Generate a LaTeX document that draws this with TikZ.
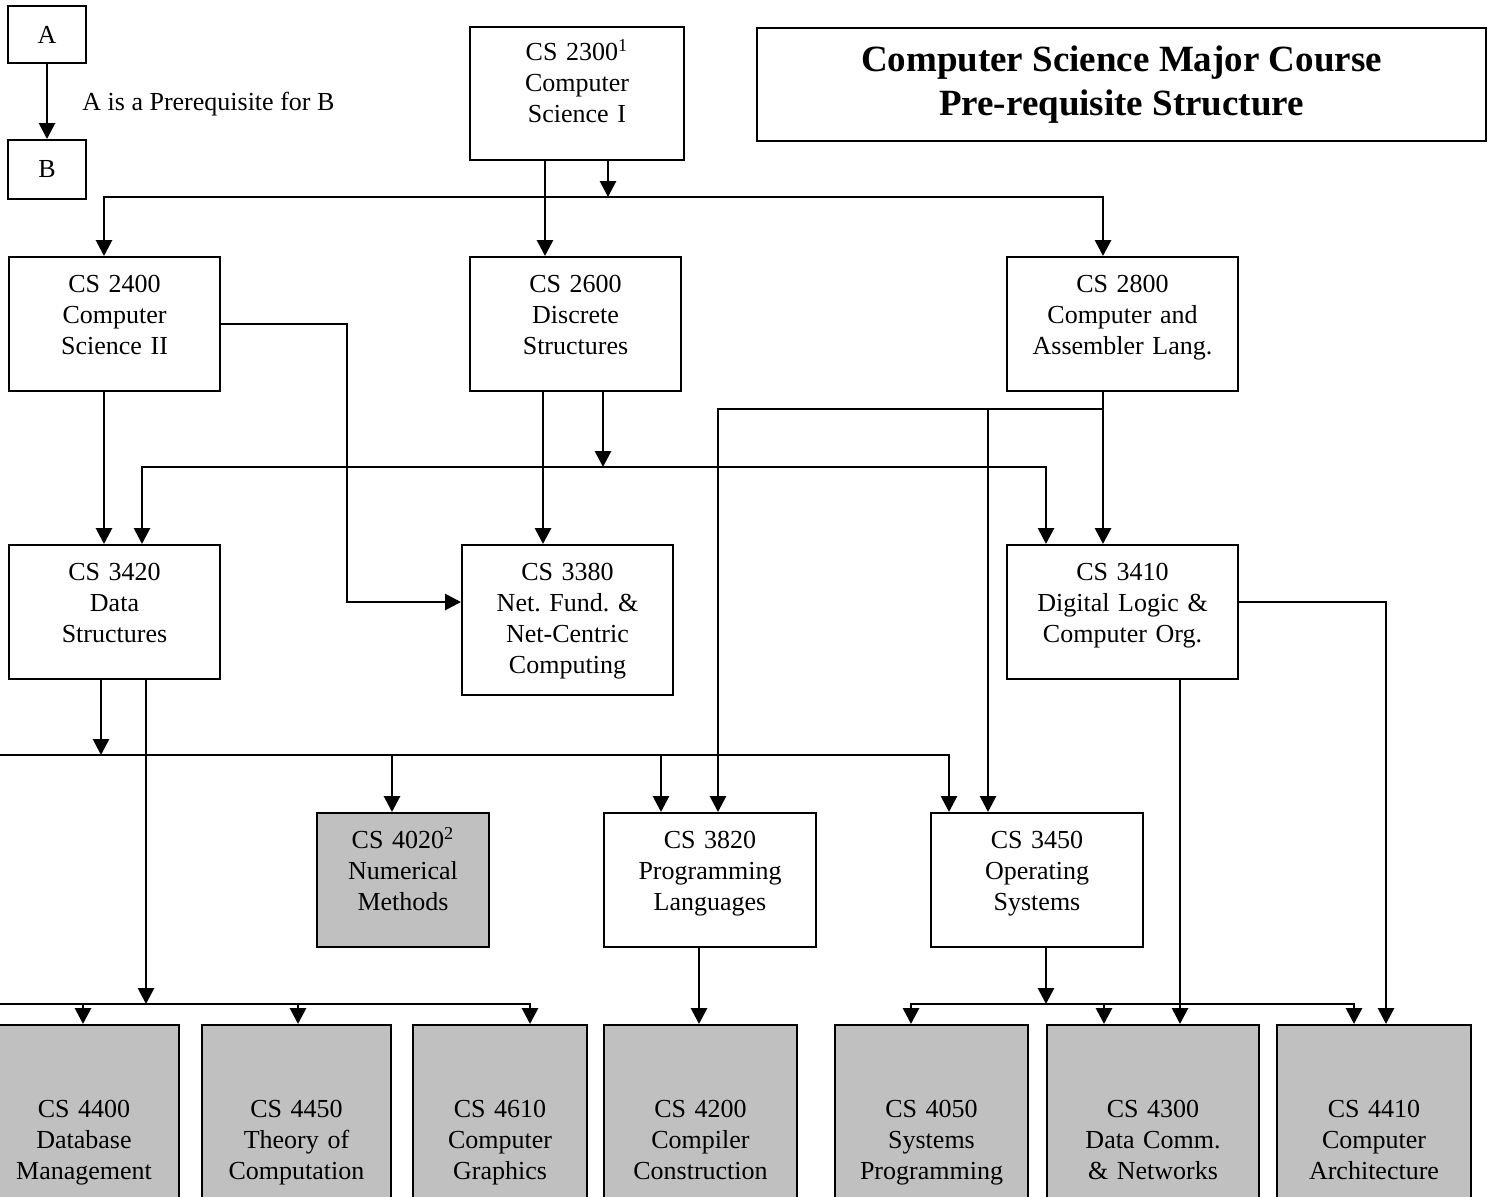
\documentclass[tikz,border=0pt]{standalone}
\usepackage{fontspec}
\setmainfont{Liberation Serif}
\usetikzlibrary{calc,arrows.meta}
\definecolor{elective}{HTML}{C0C0C0}
\newcommand{\boxfont}{\fontsize{13}{15.5}\selectfont\frenchspacing}
\tikzset{
  course/.style={draw,line width=1pt,anchor=north west,text width=#1,align=center,
    inner xsep=0pt,inner ysep=0pt,text height=17.75pt,text depth=49.25pt,font=\boxfont},
  senior/.style={fill=elective,text height=46.25pt,text depth=70pt},
  legbox/.style={draw,line width=1pt,minimum width=39pt,minimum height=28.5pt,font=\boxfont},
  conn/.style={line width=1.4pt,-{Triangle[width=8pt,length=8pt]}}
}
\begin{document}
\begin{tikzpicture}[x=0.5pt,y=-0.5pt]
\useasboundingbox (0,0) rectangle (1488,1196);
\clip (0,0) rectangle (1488,1196);
%legend and title
\node[legbox] (legA) at (47,34.5) {A};
\node[legbox,minimum height=29.5pt] (legB) at (47,169.5) {B};
\node[font=\boxfont,anchor=west,inner sep=0pt] (legtext) at (82,104) {A is a Prerequisite for B};
\node[draw,line width=1pt,minimum width=364.5pt,minimum height=56.5pt,align=center,
  font=\fontsize{18.5}{22}\selectfont\bfseries] (title) at (1121.5,84.5) {Computer Science Major Course\\Pre-requisite Structure};
\draw[conn] (legA) -- (legB);
%core courses
\node[course=107pt,text height=16.5pt,text depth=50pt] (cs2300) at (469,26) {CS 2300\textsuperscript{1}\\Computer\\Science I};
\node[course=105.5pt] (cs2400) at (8,256) {CS 2400\\Computer\\Science II};
\node[course=105.5pt] (cs2600) at (469,256) {CS 2600\\Discrete\\Structures};
\node[course=115.5pt] (cs2800) at (1006,256) {CS 2800\\Computer and\\Assembler Lang.};
\node[course=105.5pt] (cs3420) at (8,544) {CS 3420\\Data\\Structures};
\node[course=105.5pt,text depth=57.25pt] (cs3380) at (461,544) {CS 3380\\Net. Fund. \&\\Net-Centric\\Computing};
\node[course=115.5pt] (cs3410) at (1006,544) {CS 3410\\Digital Logic \&\\Computer Org.};
\node[course=86pt,fill=elective] (cs4020) at (316,812) {CS 4020\textsuperscript{2}\\Numerical\\Methods};
\node[course=106pt] (cs3820) at (603,812) {CS 3820\\Programming\\Languages};
\node[course=106pt] (cs3450) at (930,812) {CS 3450\\Operating\\Systems};
%upper level courses
\node[course=95pt,senior] (cs4400) at (-12,1024) {CS 4400\\Database\\Management};
\node[course=94.5pt,senior] (cs4450) at (201,1024) {CS 4450\\Theory of\\Computation};
\node[course=87pt,senior] (cs4610) at (412,1024) {CS 4610\\Computer\\Graphics};
\node[course=96.5pt,senior] (cs4200) at (603,1024) {CS 4200\\Compiler\\Construction};
\node[course=96.5pt,senior] (cs4050) at (834,1024) {CS 4050\\Systems\\Programming};
\node[course=106pt,senior] (cs4300) at (1046,1024) {CS 4300\\Data Comm.\\\& Networks};
\node[course=97pt,senior] (cs4410) at (1276,1024) {CS 4410\\Computer\\Architecture};
%CS 2300
\coordinate (j1) at (608,197);
\draw[conn] (545,0 |- cs2300.south) -- (545,0 |- cs2600.north);
\draw[conn] (j1 |- cs2300.south) -- (j1);
\draw[conn] (j1) -| (104,0 |- cs2400.north);
\draw[conn] (j1) -| (1103,0 |- cs2800.north);
%CS 2400
\draw[conn] (104,0 |- cs2400.south) -- (104,0 |- cs3420.north);
\draw[conn] (cs2400.east) -| (347,602) -- (cs3380.west |- 347,602);
%CS 2600
\coordinate (j2) at (603,467);
\draw[conn] (543,0 |- cs2600.south) -- (543,0 |- cs3380.north);
\draw[conn] (j2 |- cs2600.south) -- (j2);
\draw[conn] (j2) -| (142,0 |- cs3420.north);
\draw[conn] (j2) -| (1046,0 |- cs3410.north);
%CS 2800
\coordinate (j3) at (1103,409);
\coordinate (j3b) at (988,409);
\draw[conn] (1103,0 |- cs2800.south) -- (1103,0 |- cs3410.north);
\draw[conn] (j3) -| (718,0 |- cs3820.north);
\draw[conn] (j3b) -- (j3b |- cs3450.north);
%CS 3420
\coordinate (j4) at (101,755);
\coordinate (j4w) at (-20,755);
\draw[conn] (j4 |- cs3420.south) -- (j4);
\draw[conn] (j4w) -| (949,0 |- cs3450.north);
\draw[conn] (392,755) -- (392,0 |- cs4020.north);
\draw[conn] (661,755) -- (661,0 |- cs3820.north);
\coordinate (j5) at (146,1004);
\coordinate (j5w) at (-20,1004);
\draw[conn] (j5 |- cs3420.south) -- (j5);
\draw[conn] (j5w) -| (530,0 |- cs4610.north);
\draw[conn] (83,1004) -- (83,0 |- cs4400.north);
\draw[conn] (298,1004) -- (298,0 |- cs4450.north);
%CS 3820
\draw[conn] (699,0 |- cs3820.south) -- (699,0 |- cs4200.north);
%CS 3450
\coordinate (j6) at (1046,1004);
\draw[conn] (j6 |- cs3450.south) -- (j6);
\draw[conn] (j6) -| (911,0 |- cs4050.north);
\draw[conn] (j6) -| (1354,0 |- cs4410.north);
\draw[conn] (1104,1004) -- (1104,0 |- cs4300.north);
%CS 3410
\draw[conn] (1180,0 |- cs3410.south) -- (1180,0 |- cs4300.north);
\draw[conn] (cs3410.east |- 0,602) -| (1386,0 |- cs4410.north);
\end{tikzpicture}
\end{document}
